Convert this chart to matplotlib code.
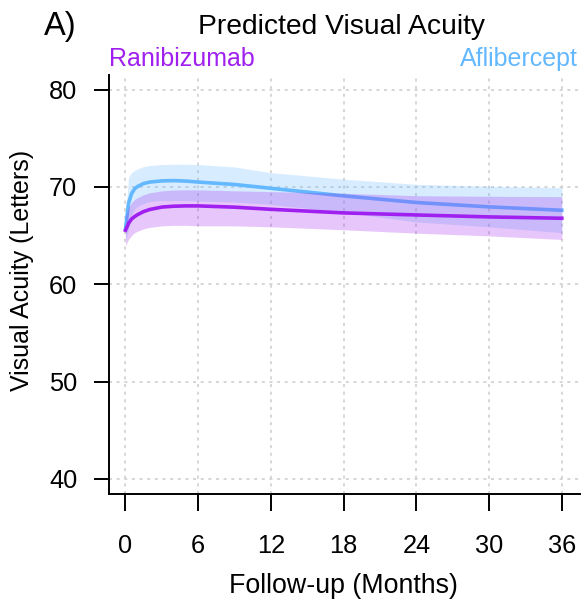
import matplotlib
matplotlib.use("Agg")
import matplotlib.pyplot as plt

plt.rcParams['font.family'] = ['Liberation Sans', 'DejaVu Sans']

months = [0, 0.25, 0.5, 0.75, 1, 1.5, 2, 3, 4, 5, 6, 9, 12, 18, 24, 30, 36]

afl_mean = [65.65, 68.3, 69.3, 69.8, 70.05, 70.35, 70.5, 70.62, 70.65, 70.6, 70.5, 70.25, 69.86, 69.08, 68.4, 67.95, 67.6]
afl_upper = [66.8, 71.0, 71.45, 71.7, 71.85, 72.1, 72.2, 72.3, 72.33, 72.33, 72.3, 72.05, 71.47, 70.8, 70.27, 70.07, 69.93]
afl_lower = [64.5, 65.6, 67.1, 67.7, 68.0, 68.3, 68.5, 68.6, 68.6, 68.6, 68.55, 68.45, 68.2, 67.4, 66.4, 65.9, 65.3]

ran_mean = [65.55, 66.25, 66.7, 66.95, 67.15, 67.47, 67.68, 67.93, 68.02, 68.05, 68.05, 67.92, 67.7, 67.33, 67.12, 66.92, 66.78]
ran_upper = [67.0, 67.9, 68.4, 68.7, 68.9, 69.2, 69.4, 69.6, 69.68, 69.7, 69.7, 69.6, 69.52, 69.35, 69.1, 69.04, 69.0]
ran_lower = [64.0, 64.6, 65.0, 65.3, 65.45, 65.7, 65.85, 66.0, 66.05, 66.05, 66.0, 66.0, 65.9, 65.6, 65.25, 64.97, 64.6]

x_ticks = [0, 6, 12, 18, 24, 30, 36]
y_ticks = [40, 50, 60, 70, 80]

blue = '#63B8FF'
purple = '#A020F0'

W, H = 581, 604
fig = plt.figure(figsize=(W / 100, H / 100), dpi=100)
ax = fig.add_axes([108.5 / W, (H - 494) / H, (580 - 108.5) / W, (494 - 75) / H])

ax.fill_between(months, afl_lower, afl_upper, color=blue, alpha=0.25, linewidth=0, zorder=2)
ax.plot(months, afl_mean, color=blue, lw=2.6, zorder=3)
ax.fill_between(months, ran_lower, ran_upper, color=purple, alpha=0.25, linewidth=0, zorder=4)
ax.plot(months, ran_mean, color=purple, lw=2.6, zorder=5)

ax.set_xlim(-1.4, 37.5)
ax.set_ylim(38.45, 81.5)
ax.set_xticks(x_ticks)
ax.set_yticks(y_ticks)
ax.grid(True, color='#cccccc', linestyle=(0, (2, 3)), linewidth=1.1)
ax.set_axisbelow(True)
for s in ['top', 'right']:
    ax.spines[s].set_visible(False)
for s in ['left', 'bottom']:
    ax.spines[s].set_linewidth(1.4)
ax.tick_params(axis='both', direction='out', width=1.4, labelsize=18.3)
ax.tick_params(axis='x', length=12, pad=17)
ax.tick_params(axis='y', length=11, pad=11.5)

fig.text(343.5 / W, 1 - 593 / H, 'Follow-up (Months)', ha='center', va='baseline', fontsize=19.3)
fig.text(29.5 / W, 1 - 270.5 / H, 'Visual Acuity (Letters)', ha='center', va='baseline',
         rotation=90, rotation_mode='anchor', fontsize=18)

fig.text(341.5 / W, 1 - 34.3 / H, 'Predicted Visual Acuity', ha='center', va='baseline', fontsize=20.3)
fig.text(44 / W, 1 - 34.5 / H, 'A)', ha='left', va='baseline', fontsize=23.5)
fig.text(109 / W, 1 - 66.5 / H, 'Ranibizumab', ha='left', va='baseline', fontsize=18, color=purple)
fig.text(578 / W, 1 - 66 / H, 'Aflibercept', ha='right', va='baseline', fontsize=18, color=blue)

fig.savefig('out.png', dpi=100)
